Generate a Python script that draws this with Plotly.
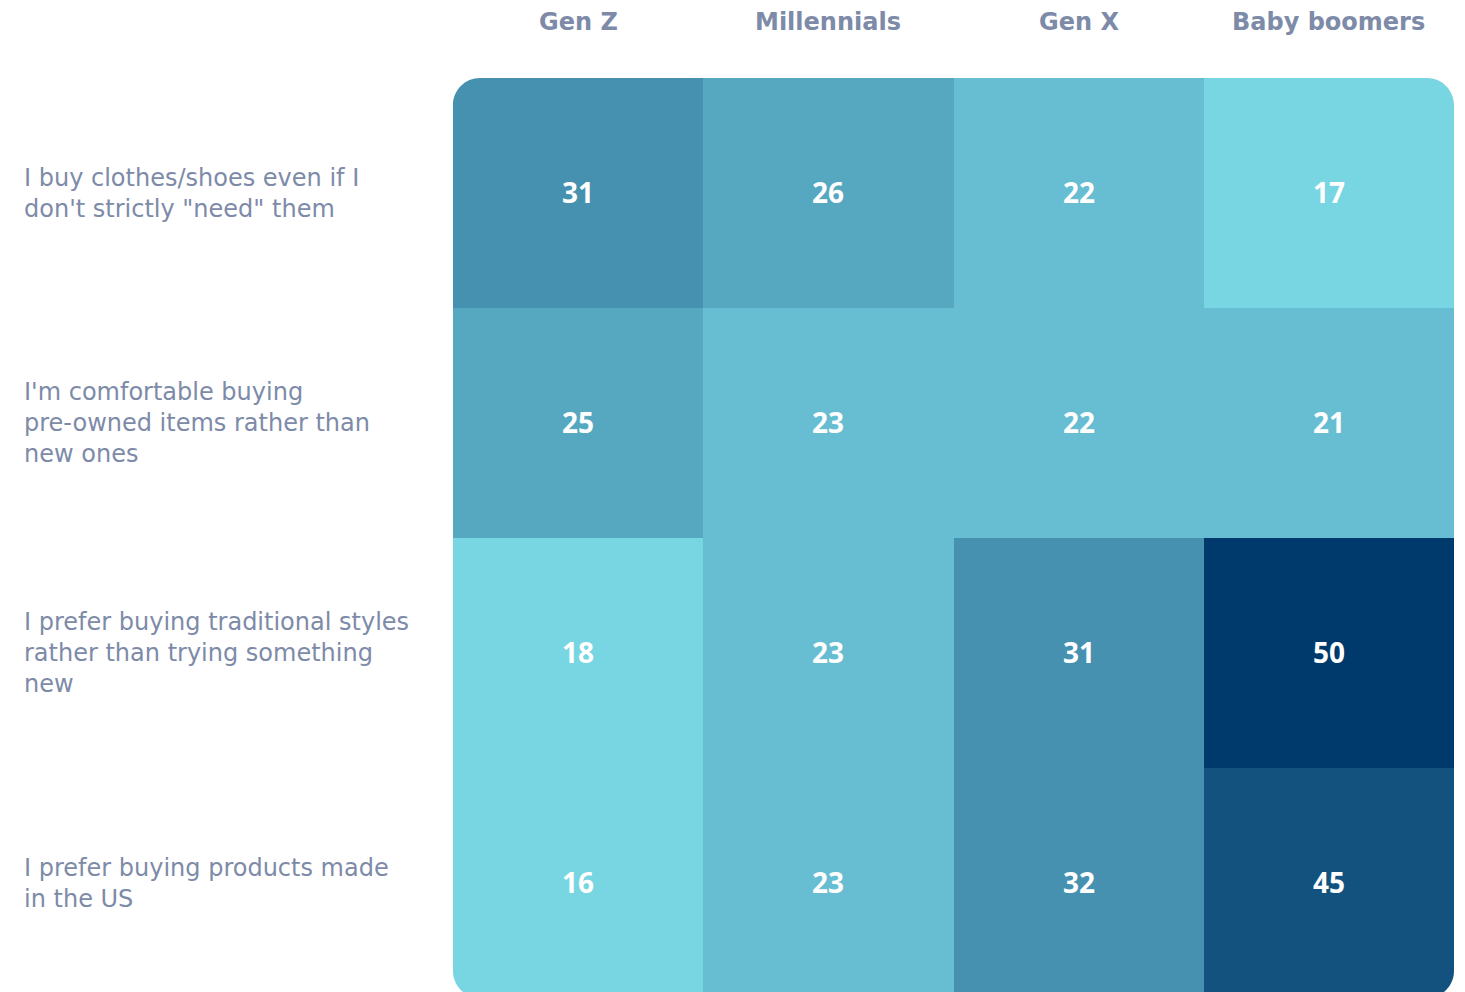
import plotly.graph_objects as go

# Survey data: share of respondents (%) agreeing with each statement
generations = ["Gen Z", "Millennials", "Gen X", "Baby boomers"]
statements = [
    "I buy clothes/shoes even if I<br>don't strictly \"need\" them",
    "I'm comfortable buying<br>pre-owned items rather than<br>new ones",
    "I prefer buying traditional styles<br>rather than trying something<br>new",
    "I prefer buying products made<br>in the US",
]
values = [
    [31, 26, 22, 17],
    [25, 23, 22, 21],
    [18, 23, 31, 50],
    [16, 23, 32, 45],
]

# Stepped colour bins (bin edges, one colour per bin)
bin_edges = [0, 19, 24, 28, 40, 47, 60]
bin_colors = ["#78D5E2", "#67BDD1", "#56A8C1", "#4691B0", "#13527E", "#003A6D"]

ZMIN, ZMAX = bin_edges[0], bin_edges[-1]
colorscale = []
for i, c in enumerate(bin_colors):
    lo = (bin_edges[i] - ZMIN) / (ZMAX - ZMIN)
    hi = (bin_edges[i + 1] - ZMIN) / (ZMAX - ZMIN)
    colorscale.append([lo, c])
    colorscale.append([hi, c])

W, H = 1465, 992
ML, MR, MT, MB = 453, 11, 78, 0
plot_w = W - ML - MR
plot_h = H - MT - MB
row_px = 230  # the last row runs past the bottom edge of the canvas

ncol = len(generations)
nrow = len(statements)
xs = list(range(ncol))
ys = list(range(nrow))

fig = go.Figure(
    go.Heatmap(
        z=values,
        x=xs,
        y=ys,
        zmin=ZMIN,
        zmax=ZMAX,
        colorscale=colorscale,
        showscale=False,
        texttemplate="%{z}",
        textfont=dict(family="Open Sans", size=28, color="white", weight=700),
        hoverinfo="skip",
    )
)

# Rounded outer corners: white masks drawn over the four corner cells
radius_px = 27
rx = radius_px * ncol / plot_w
ry = radius_px / row_px
k = 0.5523
x_lo, x_hi = -0.5, ncol - 0.5
y_lo, y_hi = -0.5, nrow - 0.5  # y axis reversed: y_lo is the top edge


def corner_path(cx, cy, sx, sy):
    # cx, cy: corner point; sx, sy: direction into the grid
    ax, ay = cx + sx * rx, cy
    bx, by = cx, cy + sy * ry
    c1x, c1y = cx + sx * rx * (1 - k), cy
    c2x, c2y = cx, cy + sy * ry * (1 - k)
    return f"M {cx},{cy} L {ax},{ay} C {c1x},{c1y} {c2x},{c2y} {bx},{by} Z"


for cx, cy, sx, sy in [
    (x_lo, y_lo, 1, 1),
    (x_hi, y_lo, -1, 1),
    (x_lo, y_hi, 1, -1),
    (x_hi, y_hi, -1, -1),
]:
    fig.add_shape(
        type="path",
        path=corner_path(cx, cy, sx, sy),
        xref="x",
        yref="y",
        fillcolor="white",
        line=dict(width=0),
        layer="above",
    )

label_color = "#7D8AA8"

# Column headers
for i, g in enumerate(generations):
    fig.add_annotation(
        x=xs[i], y=1, xref="x", yref="paper",
        text=f"<b>{g}</b>", showarrow=False,
        yanchor="middle", yshift=56,
        font=dict(family="DejaVu Sans", size=24, color=label_color),
    )

# Row statements, left-aligned in the left margin
for j, s in enumerate(statements):
    fig.add_annotation(
        x=0, y=ys[j], xref="paper", yref="y",
        text=s, showarrow=False, xanchor="left", yanchor="middle",
        align="left", xshift=-(ML - 22),
        font=dict(family="DejaVu Sans", size=24, color=label_color),
    )

fig.update_xaxes(
    range=[x_lo, x_hi], showticklabels=False, showgrid=False,
    zeroline=False, fixedrange=True,
)
fig.update_yaxes(
    range=[y_lo + plot_h / row_px, y_lo], showticklabels=False,
    showgrid=False, zeroline=False, fixedrange=True,
)
fig.update_layout(
    width=W, height=H,
    margin=dict(l=ML, r=MR, t=MT, b=MB),
    paper_bgcolor="white",
    plot_bgcolor="white",
    showlegend=False,
)

fig.write_html("out.html")
